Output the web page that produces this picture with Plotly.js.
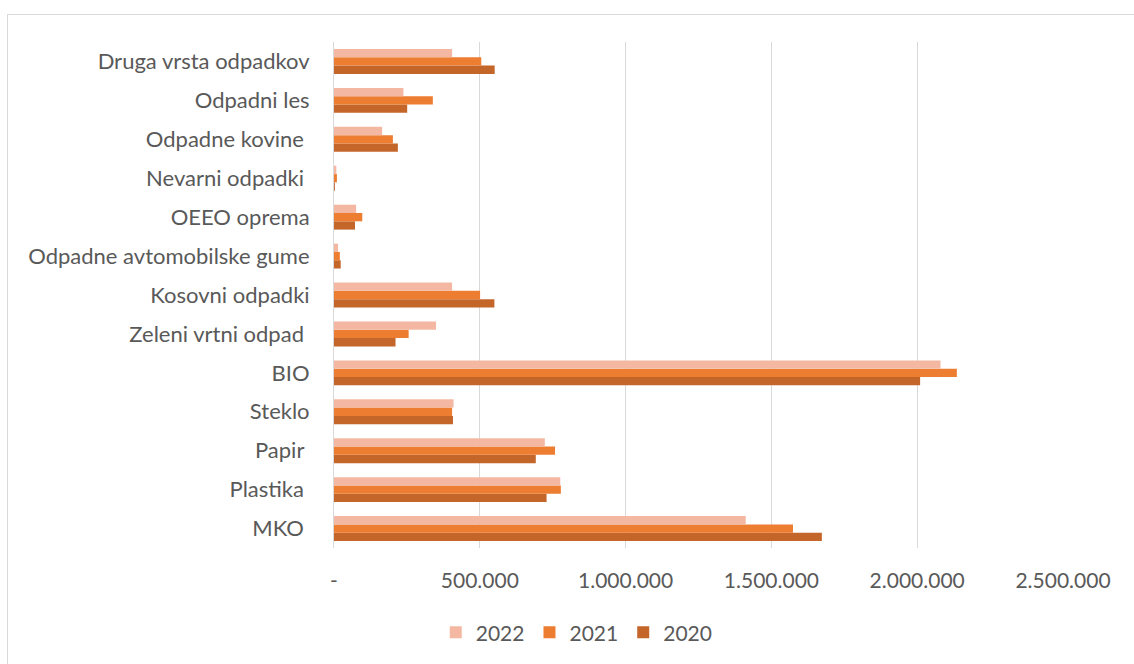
<!DOCTYPE html>
<html>
<head>
<meta charset="utf-8">
<script src="https://cdn.plot.ly/plotly-3.0.1.min.js"></script>
<style>
html,body{margin:0;padding:0;background:#fff;}
#wrap{position:relative;width:1134px;height:664px;overflow:hidden;}
#chart{position:absolute;left:0;top:0;width:1134px;height:664px;}
#frame{position:absolute;left:7px;top:14px;width:1140px;height:660px;border:1px solid #D9D9D9;pointer-events:none;}
</style>
</head>
<body>
<div id="wrap"><div id="chart"></div><div id="frame"></div></div>
<script>
// categories bottom to top
const categories = [
  "MKO\u00a0", "Plastika\u00a0", "Papir\u00a0", "Steklo", "BIO",
  "Zeleni vrtni odpad\u00a0", "Kosovni odpadki", "Odpadne avtomobilske gume",
  "OEEO oprema", "Nevarni odpadki\u00a0", "Odpadne kovine\u00a0", "Odpadni les",
  "Druga vrsta odpadkov"
];
const values2022 = [1412000, 776000, 723000, 410000, 2080000, 350000, 405000, 14000, 76000, 8000, 165000, 238000, 405000];
const values2021 = [1574000, 778000, 758000, 405000, 2136000, 256000, 501000, 20000, 97000, 10000, 202000, 339000, 505000];
const values2020 = [1673000, 729000, 692000, 408000, 2010000, 211000, 550000, 23000, 72000, 3000, 219000, 251000, 551000];
const tickValues = [0, 500000, 1000000, 1500000, 2000000, 2500000];
const tickLabels = ["-", "500.000", "1.000.000", "1.500.000", "2.000.000", "2.500.000"];

const font = "Lato, 'Open Sans', sans-serif";
const traces = [
  {name: "2020", y: categories, x: values2020, type: "bar", orientation: "h", marker: {color: "#C4652A"}},
  {name: "2021", y: categories, x: values2021, type: "bar", orientation: "h", marker: {color: "#ED7D31"}},
  {name: "2022", y: categories, x: values2022, type: "bar", orientation: "h", marker: {color: "#F4B8A2"}}
];
const layout = {
  width: 1134, height: 664,
  margin: {l: 334, r: 71, t: 42, b: 115},
  paper_bgcolor: "rgba(0,0,0,0)", plot_bgcolor: "rgba(0,0,0,0)",
  barmode: "group", bargap: 0.36, bargroupgap: 0,
  font: {family: font, color: "#595959", size: 21},
  showlegend: true,
  legend: {orientation: "h", x: 0.333, xanchor: "center", y: -0.165, yanchor: "middle",
           traceorder: "reversed", font: {size: 21, color: "#595959"}, itemwidth: 30},
  xaxis: {range: [0, 2500000], tickvals: tickValues, ticktext: tickLabels,
          showgrid: true, gridcolor: "#D9D9D9", gridwidth: 1, zeroline: false,
          showline: false, ticks: "outside", ticklen: 14, tickcolor: "rgba(0,0,0,0)",
          tickfont: {size: 21, color: "#595959"}, fixedrange: true},
  yaxis: {type: "category", showline: true, linecolor: "#D9D9D9", linewidth: 1,
          ticks: "outside", ticklen: 19, tickcolor: "rgba(0,0,0,0)",
          tickfont: {size: 22, color: "#595959"}, showgrid: false, fixedrange: true}
};
Plotly.newPlot("chart", traces, layout, {displayModeBar: false, staticPlot: true});
</script>
</body>
</html>
